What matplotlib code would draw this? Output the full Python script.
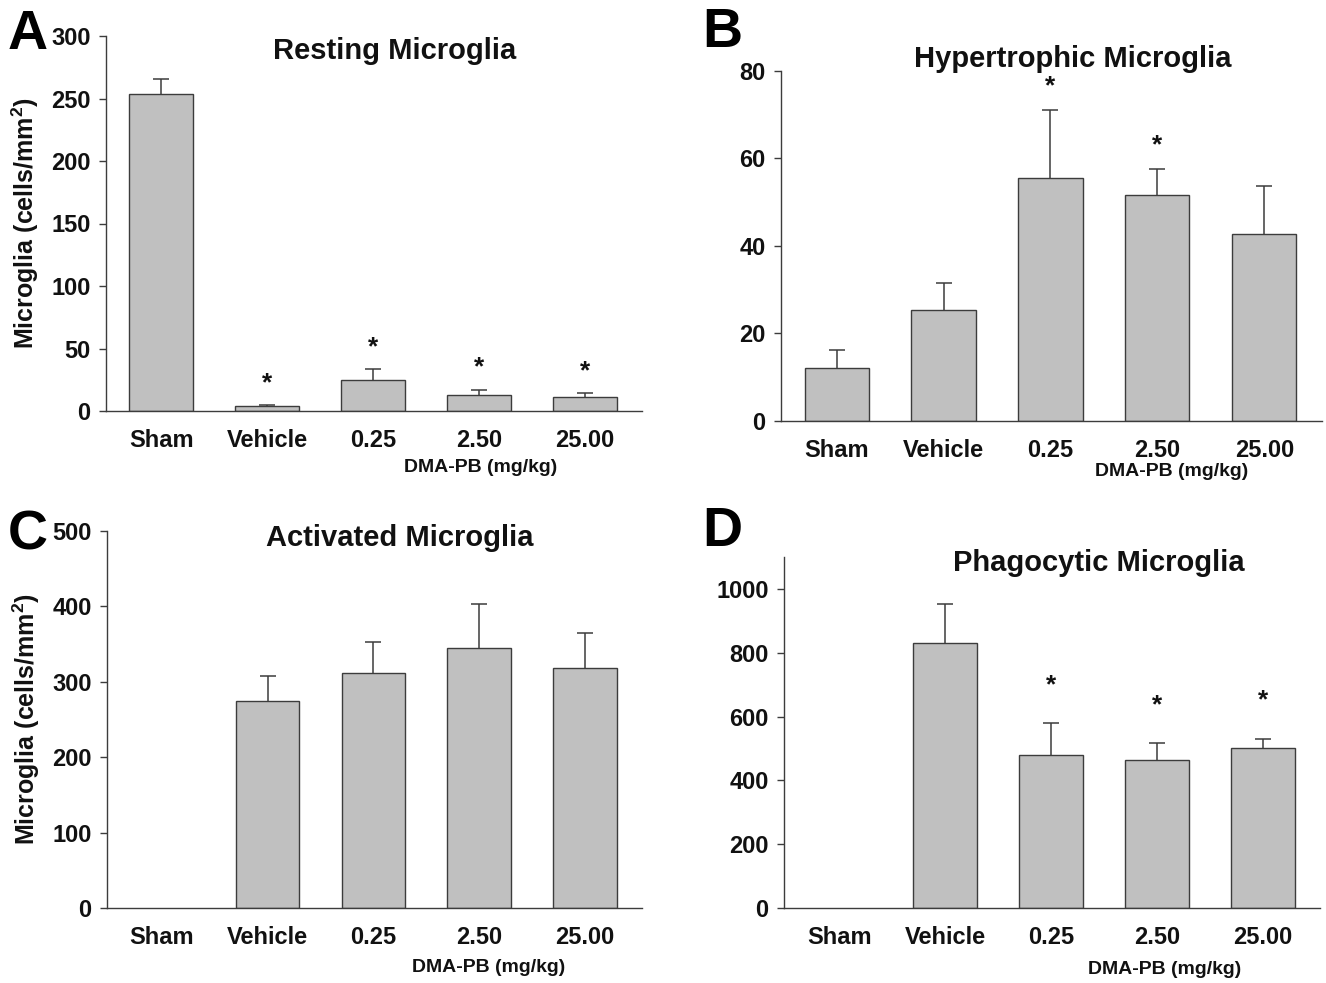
import matplotlib
matplotlib.use("Agg")
import matplotlib.pyplot as plt
from matplotlib import font_manager as fm
import numpy as np

# ---------------- data ----------------
categories = ["Sham", "Vehicle", "0.25", "2.50", "25.00"]

resting_mean = [254, 3.7, 24.5, 13, 11.4]
resting_err = [11.7, 1.1, 9.0, 4.0, 3.0]
resting_sig = [False, True, True, True, True]

hyper_mean = [12.2, 25.4, 55.5, 51.7, 42.7]
hyper_err = [4.1, 6.2, 15.6, 5.9, 11.1]
hyper_sig = [False, False, True, True, False]

activated_mean = [0, 274.7, 312.3, 344.5, 318.0]
activated_err = [0, 33.6, 40.7, 59.2, 46.8]
activated_sig = [False, False, False, False, False]

phago_mean = [0, 830, 479.6, 465, 500.5]
phago_err = [0, 123, 100.4, 52, 30.5]
phago_sig = [False, False, True, True, True]

panel_titles = ["Resting Microglia", "Hypertrophic Microglia",
                "Activated Microglia", "Phagocytic Microglia"]
panel_letters = ["A", "B", "C", "D"]
ylims = [300, 80, 500, 1100]
yticks = [[0, 50, 100, 150, 200, 250, 300],
          [0, 20, 40, 60, 80],
          [0, 100, 200, 300, 400, 500],
          [0, 200, 400, 600, 800, 1000]]
ylabel_text = "Microglia (cells/mm$^{\\mathbf{2}}$)"
xlabel_text = "DMA-PB (mg/kg)"

# ---------------- fonts ----------------
names = {f.name for f in fm.fontManager.ttflist}
narrow = "Liberation Sans Narrow" if "Liberation Sans Narrow" in names else "Liberation Sans"
plt.rcParams["font.family"] = [narrow, "DejaVu Sans"]
plt.rcParams["mathtext.fontset"] = "custom"
plt.rcParams["mathtext.rm"] = "Liberation Sans"
plt.rcParams["mathtext.bf"] = "Liberation Sans:bold"

W, H = 1326, 983
fig = plt.figure(figsize=(W / 100, H / 100), dpi=100)

def frac_rect(l, r, top, bot):
    return [l / W, 1 - bot / H, (r - l) / W, (bot - top) / H]

rects = [frac_rect(106, 642, 36, 411),
         frac_rect(781, 1322, 71, 421),
         frac_rect(107, 642, 531, 908),
         frac_rect(784, 1320, 557, 908)]

means = [resting_mean, hyper_mean, activated_mean, phago_mean]
errs = [resting_err, hyper_err, activated_err, phago_err]
sigs = [resting_sig, hyper_sig, activated_sig, phago_sig]
star_off = [22, 24, 24, 38]

title_pos = [(395, 51), (1073, 59), (400, 538), (1099, 563)]
letter_pos = [(28, 35), (722, 33), (28, 535), (722, 532)]
xlab_pos = [(481, 467), (1172, 471), (489, 968), (1165, 970)]

edge = "#3c3c3c"
fill = "#c0c0c0"

for i in range(4):
    ax = fig.add_axes(rects[i])
    x = np.arange(len(categories))
    m = np.array(means[i], dtype=float)
    e = np.array(errs[i], dtype=float)
    show = m > 0
    ax.bar(x[show], m[show], width=0.6, color=fill, edgecolor=edge,
           linewidth=1.0, zorder=2)
    eb = ax.errorbar(x[show], m[show], yerr=[np.zeros(show.sum()), e[show]],
                     fmt="none", ecolor=edge, elinewidth=1.1, capsize=6,
                     capthick=1.1, zorder=1)
    caps = eb[1]
    if len(caps) == 2:
        caps[0].set_visible(False)
    for xi, mi, ei, s in zip(x, m, e, sigs[i]):
        if s:
            ax.annotate("*", xy=(xi, mi + ei), xytext=(0, star_off[i]),
                        textcoords="offset pixels", ha="center", va="center",
                        fontsize=19, fontweight="bold", color="#111111")
    ax.set_xlim(-0.52, 4.54)
    ax.set_ylim(0, ylims[i])
    ax.set_yticks(yticks[i])
    ax.set_xticks(x)
    ax.set_xticklabels(categories)
    for sp in ["top", "right"]:
        ax.spines[sp].set_visible(False)
    for sp in ["left", "bottom"]:
        ax.spines[sp].set_color(edge)
        ax.spines[sp].set_linewidth(1.0)
    ax.tick_params(axis="y", direction="out", length=5, width=1, color=edge,
                   labelsize=17, pad=6)
    ax.tick_params(axis="x", length=0, labelsize=17, pad=13)
    for lab in ax.get_xticklabels() + ax.get_yticklabels():
        lab.set_fontweight("bold")
        lab.set_color("#111111")
    if i in (0, 2):
        ax.set_ylabel(ylabel_text, fontsize=18, fontweight="bold",
                      family=["Liberation Sans", "DejaVu Sans"], labelpad=7,
                      color="#111111")
    tx, ty = title_pos[i]
    fig.text(tx / W, 1 - ty / H, panel_titles[i], ha="center", va="center",
             fontsize=21, fontweight="bold", color="#111111")
    lx, ly = letter_pos[i]
    fig.text(lx / W, 1 - ly / H, panel_letters[i], ha="center", va="center",
             fontsize=40, fontweight="bold", color="#000000",
             family=["Liberation Sans", "DejaVu Sans"])
    xx, xy = xlab_pos[i]
    fig.text(xx / W, 1 - xy / H, xlabel_text, ha="center", va="center",
             fontsize=14, fontweight="bold", color="#111111")

fig.savefig("out.png", dpi=100)
